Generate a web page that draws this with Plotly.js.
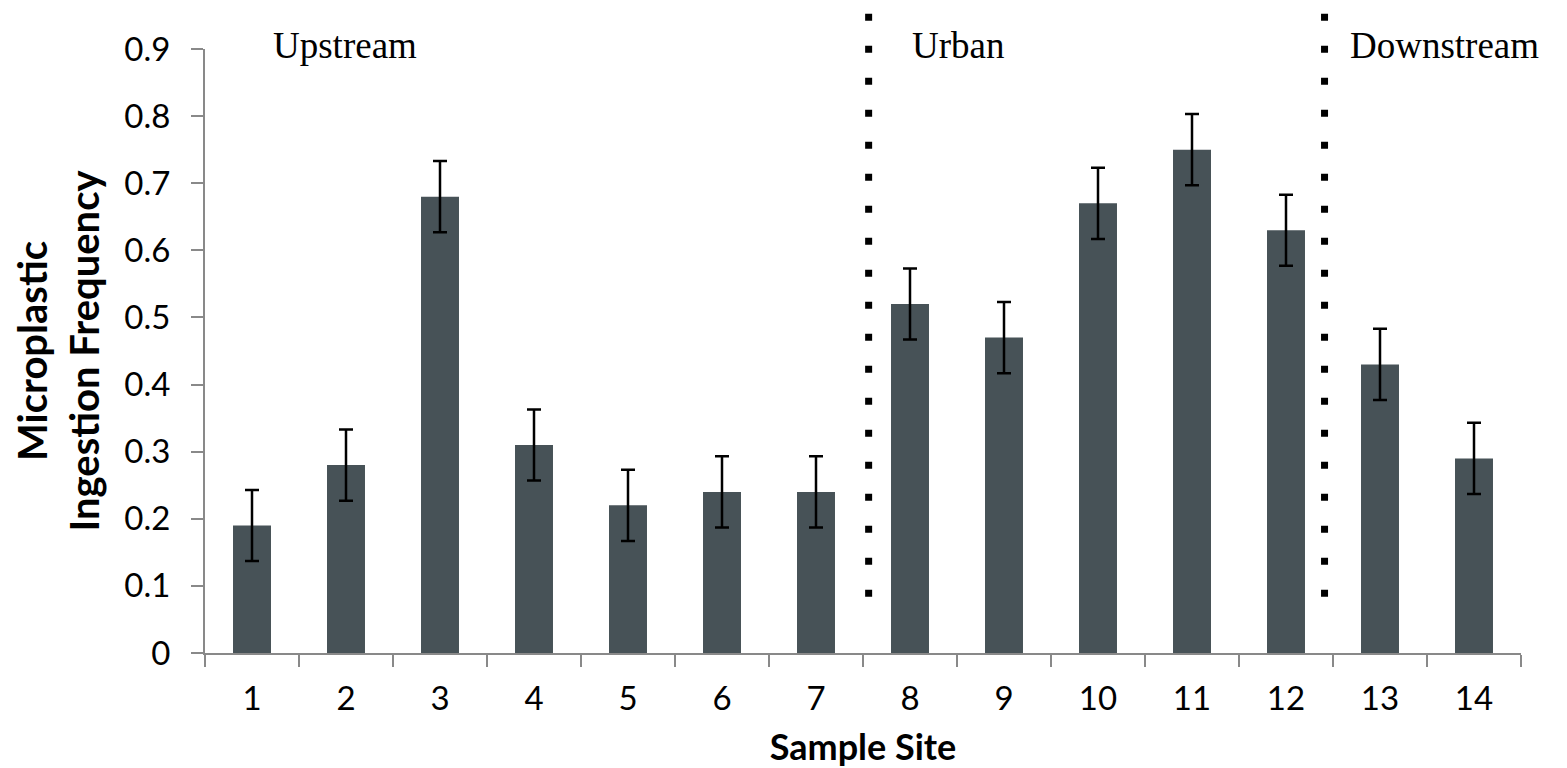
<!DOCTYPE html>
<html>
<head>
<meta charset="utf-8">
<script src="https://cdn.plot.ly/plotly-3.0.1.min.js"></script>
<style>html,body{margin:0;padding:0;background:#fff;}#chart{width:1567px;height:768px;}</style>
</head>
<body>
<div id="chart"></div>
<script>
// Data
const sites = ['1','2','3','4','5','6','7','8','9','10','11','12','13','14'];
const frequency = [0.19, 0.28, 0.68, 0.31, 0.22, 0.24, 0.24, 0.52, 0.47, 0.67, 0.75, 0.63, 0.43, 0.29];
const errors = [0.053, 0.053, 0.053, 0.053, 0.053, 0.053, 0.053, 0.053, 0.053, 0.053, 0.053, 0.053, 0.053, 0.053];
const regionNames = ['Upstream', 'Urban', 'Downstream'];
const regionLabelX = [0.2, 7.0, 11.66];   // category-index positions of region labels (left edge)
const dividerX = [6.56, 11.41];           // category-index positions of dotted dividers

const nCat = sites.length;
const toPaper = i => (i + 0.5) / nCat;

const axisGray = '#898989';
const tickFont = {family: 'Lato, "Open Sans", sans-serif', size: 33, color: '#000'};

const trace = {
  type: 'bar',
  x: sites,
  y: frequency,
  marker: {color: '#475257'},
  error_y: {type: 'data', array: errors, visible: true, color: '#000', thickness: 2.5, width: 7},
  hoverinfo: 'x+y'
};

const shapes = dividerX.map(d => ({
  type: 'line', xref: 'paper', yref: 'paper',
  x0: toPaper(d), x1: toPaper(d), y0: 0.093, y1: 1.062,
  line: {color: '#000', width: 7, dash: '7px,25px'}
}));

const annotations = regionNames.map((name, i) => ({
  xref: 'paper', yref: 'paper',
  x: toPaper(regionLabelX[i]), y: 1.005,
  xanchor: 'left', yanchor: 'middle',
  text: name, showarrow: false,
  font: {family: '"Liberation Serif", "Times New Roman", serif', size: 37, color: '#000'}
}));

const layout = {
  width: 1567, height: 768,
  margin: {l: 205, r: 46, t: 49, b: 115},
  paper_bgcolor: '#fff', plot_bgcolor: '#fff',
  showlegend: false,
  bargap: 0.596,
  xaxis: {
    type: 'category',
    tickson: 'boundaries',
    ticks: 'outside', ticklen: 12, tickwidth: 2, tickcolor: axisGray,
    showline: true, linecolor: axisGray, linewidth: 2,
    showgrid: false, zeroline: false,
    tickfont: tickFont,
    ticklabelstandoff: 15,
    title: {text: 'Sample Site', font: {family: 'Lato, "Open Sans", sans-serif', size: 36, color: '#000', weight: 'bold'}, standoff: 23},
    automargin: false
  },
  yaxis: {
    range: [0, 0.9],
    dtick: 0.1,
    tickformat: '.1~f',
    ticks: 'outside', ticklen: 12, tickwidth: 2, tickcolor: axisGray,
    showline: true, linecolor: axisGray, linewidth: 2,
    showgrid: false, zeroline: false,
    tickfont: tickFont,
    ticklabelstandoff: 14,
    title: {text: 'Microplastic<br>Ingestion Frequency', font: {family: 'Lato, "Open Sans", sans-serif', size: 40, color: '#000', weight: 'bold'}, standoff: 12},
    automargin: false
  },
  shapes: shapes,
  annotations: annotations
};

Plotly.newPlot('chart', [trace], layout, {displayModeBar: false, staticPlot: true});
</script>
</body>
</html>
